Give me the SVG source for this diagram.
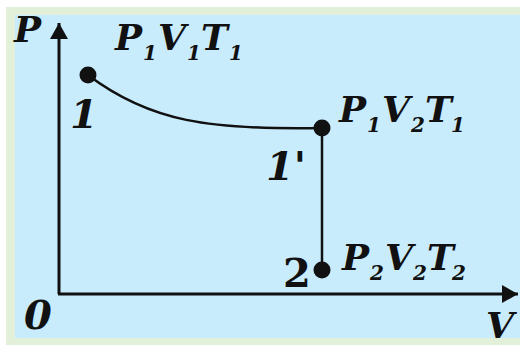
<svg xmlns="http://www.w3.org/2000/svg" width="520" height="345" viewBox="0 0 520 345">
<style>
.t{font-family:"DejaVu Serif","Liberation Serif",serif;font-weight:bold;font-style:italic;fill:#111}
.m{font-size:36px}
.s{font-size:20px}
.b{font-size:40px}
.ax{stroke:#111;stroke-width:3;fill:none}
.ln{stroke:#111;stroke-width:2.5;fill:none}
.dot{fill:#111}
</style>
<defs>
<marker id="ah" markerWidth="16" markerHeight="18" refX="16" refY="9" orient="auto" markerUnits="userSpaceOnUse">
<path d="M0,0 L16,9 L0,18 Z" fill="#111"/>
</marker>
</defs>
<rect x="0" y="0" width="520" height="345" fill="#ffffff"/>
<rect x="6" y="7" width="514" height="338" fill="#e2efd9"/>
<rect x="15" y="15" width="505" height="323" fill="#c9ecfd"/>
<g id="connectors">
<line class="ax" x1="59" y1="294" x2="59" y2="23" marker-end="url(#ah)"/>
<line class="ax" x1="58" y1="294" x2="518" y2="294" marker-end="url(#ah)"/>
<path class="ln" d="M88,75 C150,122 210,130 322,128"/>
<line class="ln" x1="322" y1="128" x2="322" y2="270"/>
</g>
<g id="axis-labels">
<text class="t m" x="14" y="42">P</text>
<text class="t m" x="486" y="338">V</text>
<text class="t b" x="24" y="329">0</text>
</g>
<g id="node1">
<circle class="dot" cx="88" cy="75" r="8.5"/>
<text class="t b" x="70" y="128">1</text>
<text class="t"><tspan class="m" x="115" y="50">P</tspan><tspan class="s" x="143" y="60">1</tspan><tspan class="m" x="158" y="50">V</tspan><tspan class="s" x="187" y="60">1</tspan><tspan class="m" x="201" y="50">T</tspan><tspan class="s" x="229" y="60">1</tspan></text>
</g>
<g id="node1p">
<circle class="dot" cx="322" cy="128" r="8.5"/>
<text class="t b" x="266" y="180">1'</text>
<text class="t"><tspan class="m" x="339" y="122">P</tspan><tspan class="s" x="367" y="132">1</tspan><tspan class="m" x="382" y="122">V</tspan><tspan class="s" x="411" y="132">2</tspan><tspan class="m" x="425" y="122">T</tspan><tspan class="s" x="451" y="132">1</tspan></text>
</g>
<g id="node2">
<circle class="dot" cx="322" cy="270" r="8.5"/>
<text class="t b" x="283" y="287" style="font-style:normal">2</text>
<text class="t"><tspan class="m" x="342" y="270">P</tspan><tspan class="s" x="370" y="280">2</tspan><tspan class="m" x="385" y="270">V</tspan><tspan class="s" x="413" y="280">2</tspan><tspan class="m" x="427" y="270">T</tspan><tspan class="s" x="452" y="280">2</tspan></text>
</g>
</svg>
